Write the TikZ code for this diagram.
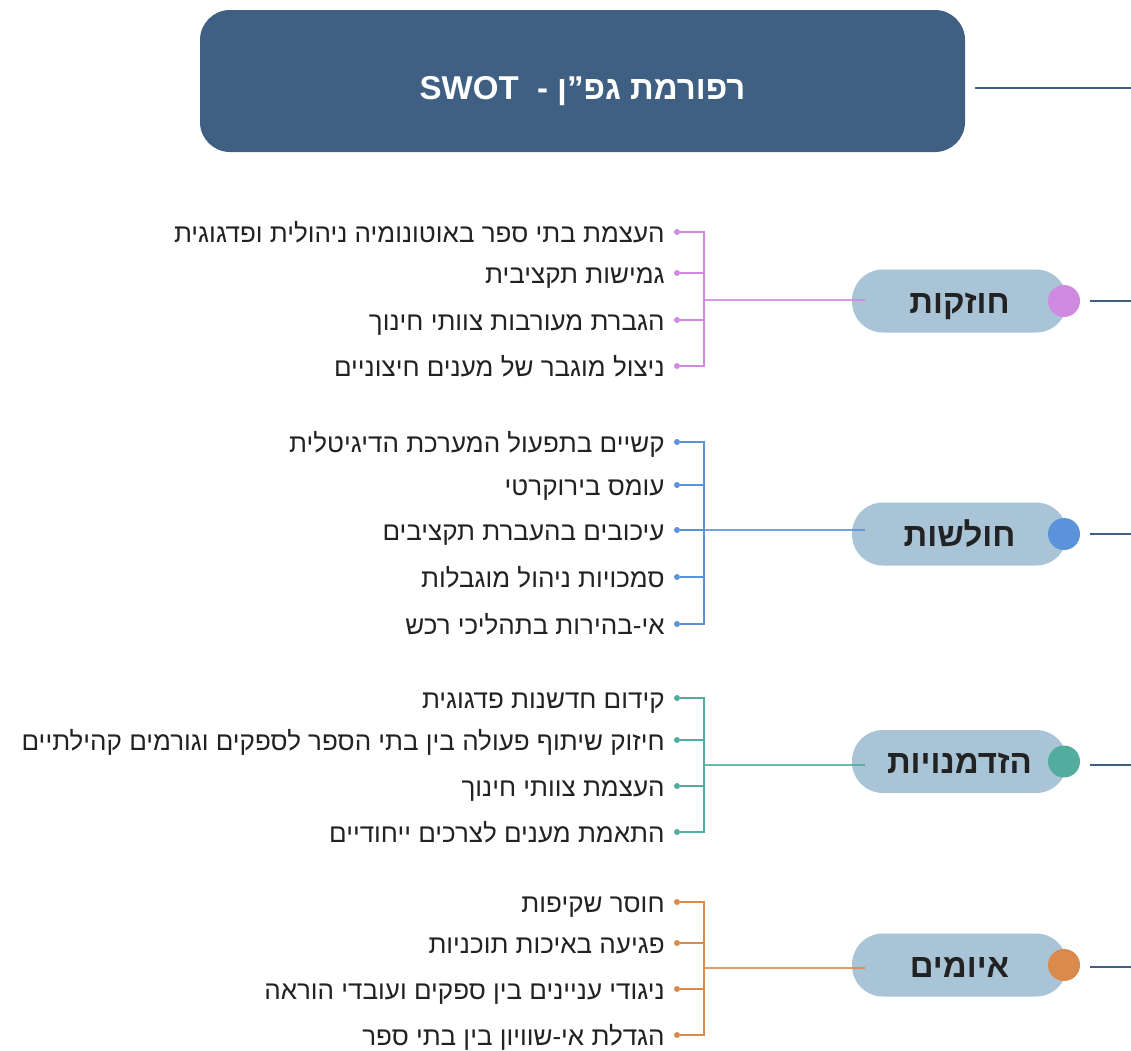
\documentclass[tikz,border=0pt]{standalone}
\usepackage{fontspec}
\setmainfont{Liberation Sans}
\newfontfamily\hebfont[Script=Hebrew]{Liberation Sans}
\TeXXeTstate=1
\usetikzlibrary{positioning}

\definecolor{titleblue}{HTML}{3F5F83}
\definecolor{pillblue}{HTML}{A8C4D6}
\definecolor{strcol}{HTML}{CF89E0}
\definecolor{weakcol}{HTML}{5B93DB}
\definecolor{oppcol}{HTML}{52AD9F}
\definecolor{thrcol}{HTML}{DA8A4B}
\definecolor{txtcol}{HTML}{222222}

\newcommand{\heb}[1]{\hebfont\beginR #1\endR}

\tikzset{
  titlebox/.style={fill=titleblue, rounded corners=30pt, minimum width=765pt, minimum height=142pt,
    text=white, font=\hebfont\bfseries\fontsize{33}{38}\selectfont, text height=36pt, text depth=0pt},
  pill/.style={fill=pillblue, rounded corners=31pt, minimum width=215pt, minimum height=63pt,
    text=txtcol, font=\hebfont\bfseries\fontsize{33}{38}\selectfont, text height=24pt, text depth=0pt},
  pilldot/.style={circle, fill=#1, minimum size=32pt, inner sep=0pt},
  itemdot/.style={circle, fill=#1, minimum size=6pt, inner sep=0pt},
  item/.style={text=txtcol, font=\hebfont\fontsize{26}{30}\selectfont, inner sep=0pt,
    text height=21pt, text depth=0pt},
  branch/.style={draw=#1, line width=2.2pt},
  trunk/.style={draw=titleblue, line width=2.4pt},
}

\begin{document}
\begin{tikzpicture}[x=1pt, y=-1pt]
  \useasboundingbox (0,0) rectangle (1131,1050);

  % title
  \node[titlebox] (title) at (582.5,81) {\heb{רפורמת גפ”ן -~~\beginL SWOT\endL}};
  \coordinate (titleend) at (1131,88);
  \draw[trunk] ([xshift=10pt,yshift=-7pt]title.east) -- (titleend);

  % strengths
  \node[pill] (spill) at (959.5,301) {\heb{חוזקות}};
  \coordinate (sj) at (704,300);
  \coordinate (send) at (1131,301);
  \node[itemdot=strcol] (s1) at (677,232) {};
  \node[itemdot=strcol] (s2) at (677,273) {};
  \node[itemdot=strcol] (s3) at (677,320) {};
  \node[itemdot=strcol] (s4) at (677,366) {};
  \node[item, left=9pt of s1] (s1t) {\heb{העצמת בתי ספר באוטונומיה ניהולית ופדגוגית}};
  \node[item, left=9pt of s2] (s2t) {\heb{גמישות תקציבית}};
  \node[item, left=9pt of s3] (s3t) {\heb{הגברת מעורבות צוותי חינוך}};
  \node[item, left=9pt of s4] (s4t) {\heb{ניצול מוגבר של מענים חיצוניים}};
  \foreach \i in {1,...,4} \draw[branch=strcol] (s\i) -| (sj);
  \draw[branch=strcol, opacity=.85] (sj) -- ([xshift=13pt]spill.west |- sj);
  \node[pilldot=strcol] (sdot) at (1064,301) {};
  \draw[trunk] ([xshift=10pt]sdot.east) -- (send);

  % weaknesses
  \node[pill] (wpill) at (959.5,534) {\heb{חולשות}};
  \coordinate (wj) at (704,530);
  \coordinate (wend) at (1131,534);
  \node[itemdot=weakcol] (w1) at (677,442) {};
  \node[itemdot=weakcol] (w2) at (677,485) {};
  \node[itemdot=weakcol] (w3) at (677,530) {};
  \node[itemdot=weakcol] (w4) at (677,577) {};
  \node[itemdot=weakcol] (w5) at (677,624) {};
  \node[item, left=9pt of w1] (w1t) {\heb{קשיים בתפעול המערכת הדיגיטלית}};
  \node[item, left=9pt of w2] (w2t) {\heb{עומס בירוקרטי}};
  \node[item, left=9pt of w3] (w3t) {\heb{עיכובים בהעברת תקציבים}};
  \node[item, left=9pt of w4] (w4t) {\heb{סמכויות ניהול מוגבלות}};
  \node[item, left=9pt of w5] (w5t) {\heb{אי-בהירות בתהליכי רכש}};
  \foreach \i in {1,...,5} \draw[branch=weakcol] (w\i) -| (wj);
  \draw[branch=weakcol, opacity=.85] (wj) -- ([xshift=13pt]wpill.west |- wj);
  \node[pilldot=weakcol] (wdot) at (1064,534) {};
  \draw[trunk] ([xshift=10pt]wdot.east) -- (wend);

  % opportunities
  \node[pill] (opill) at (959.5,761.5) {\heb{הזדמנויות}};
  \coordinate (oj) at (704,765);
  \coordinate (oend) at (1131,765);
  \node[itemdot=oppcol] (o1) at (677,698) {};
  \node[itemdot=oppcol] (o2) at (677,740) {};
  \node[itemdot=oppcol] (o3) at (677,786) {};
  \node[itemdot=oppcol] (o4) at (677,832) {};
  \node[item, left=9pt of o1] (o1t) {\heb{קידום חדשנות פדגוגית}};
  \node[item, left=9pt of o2] (o2t) {\heb{חיזוק שיתוף פעולה בין בתי הספר לספקים וגורמים קהילתיים}};
  \node[item, left=9pt of o3] (o3t) {\heb{העצמת צוותי חינוך}};
  \node[item, left=9pt of o4] (o4t) {\heb{התאמת מענים לצרכים ייחודיים}};
  \foreach \i in {1,...,4} \draw[branch=oppcol] (o\i) -| (oj);
  \draw[branch=oppcol, opacity=.85] (oj) -- ([xshift=13pt]opill.west |- oj);
  \node[pilldot=oppcol] (odot) at (1064,761.5) {};
  \draw[trunk] ([xshift=10pt]odot.east |- oend) -- (oend);

  % threats
  \node[pill] (tpill) at (959.5,965) {\heb{איומים}};
  \coordinate (tj) at (704,968);
  \coordinate (tend) at (1131,967);
  \node[itemdot=thrcol] (t1) at (677,902) {};
  \node[itemdot=thrcol] (t2) at (677,943) {};
  \node[itemdot=thrcol] (t3) at (677,989) {};
  \node[itemdot=thrcol] (t4) at (677,1035) {};
  \node[item, left=9pt of t1] (t1t) {\heb{חוסר שקיפות}};
  \node[item, left=9pt of t2] (t2t) {\heb{פגיעה באיכות תוכניות}};
  \node[item, left=9pt of t3] (t3t) {\heb{ניגודי עניינים בין ספקים ועובדי הוראה}};
  \node[item, left=9pt of t4] (t4t) {\heb{הגדלת אי-שוויון בין בתי ספר}};
  \foreach \i in {1,...,4} \draw[branch=thrcol] (t\i) -| (tj);
  \draw[branch=thrcol, opacity=.85] (tj) -- ([xshift=13pt]tpill.west |- tj);
  \node[pilldot=thrcol] (tdot) at (1064,965) {};
  \draw[trunk] ([xshift=10pt]tdot.east |- tend) -- (tend);
\end{tikzpicture}
\end{document}
